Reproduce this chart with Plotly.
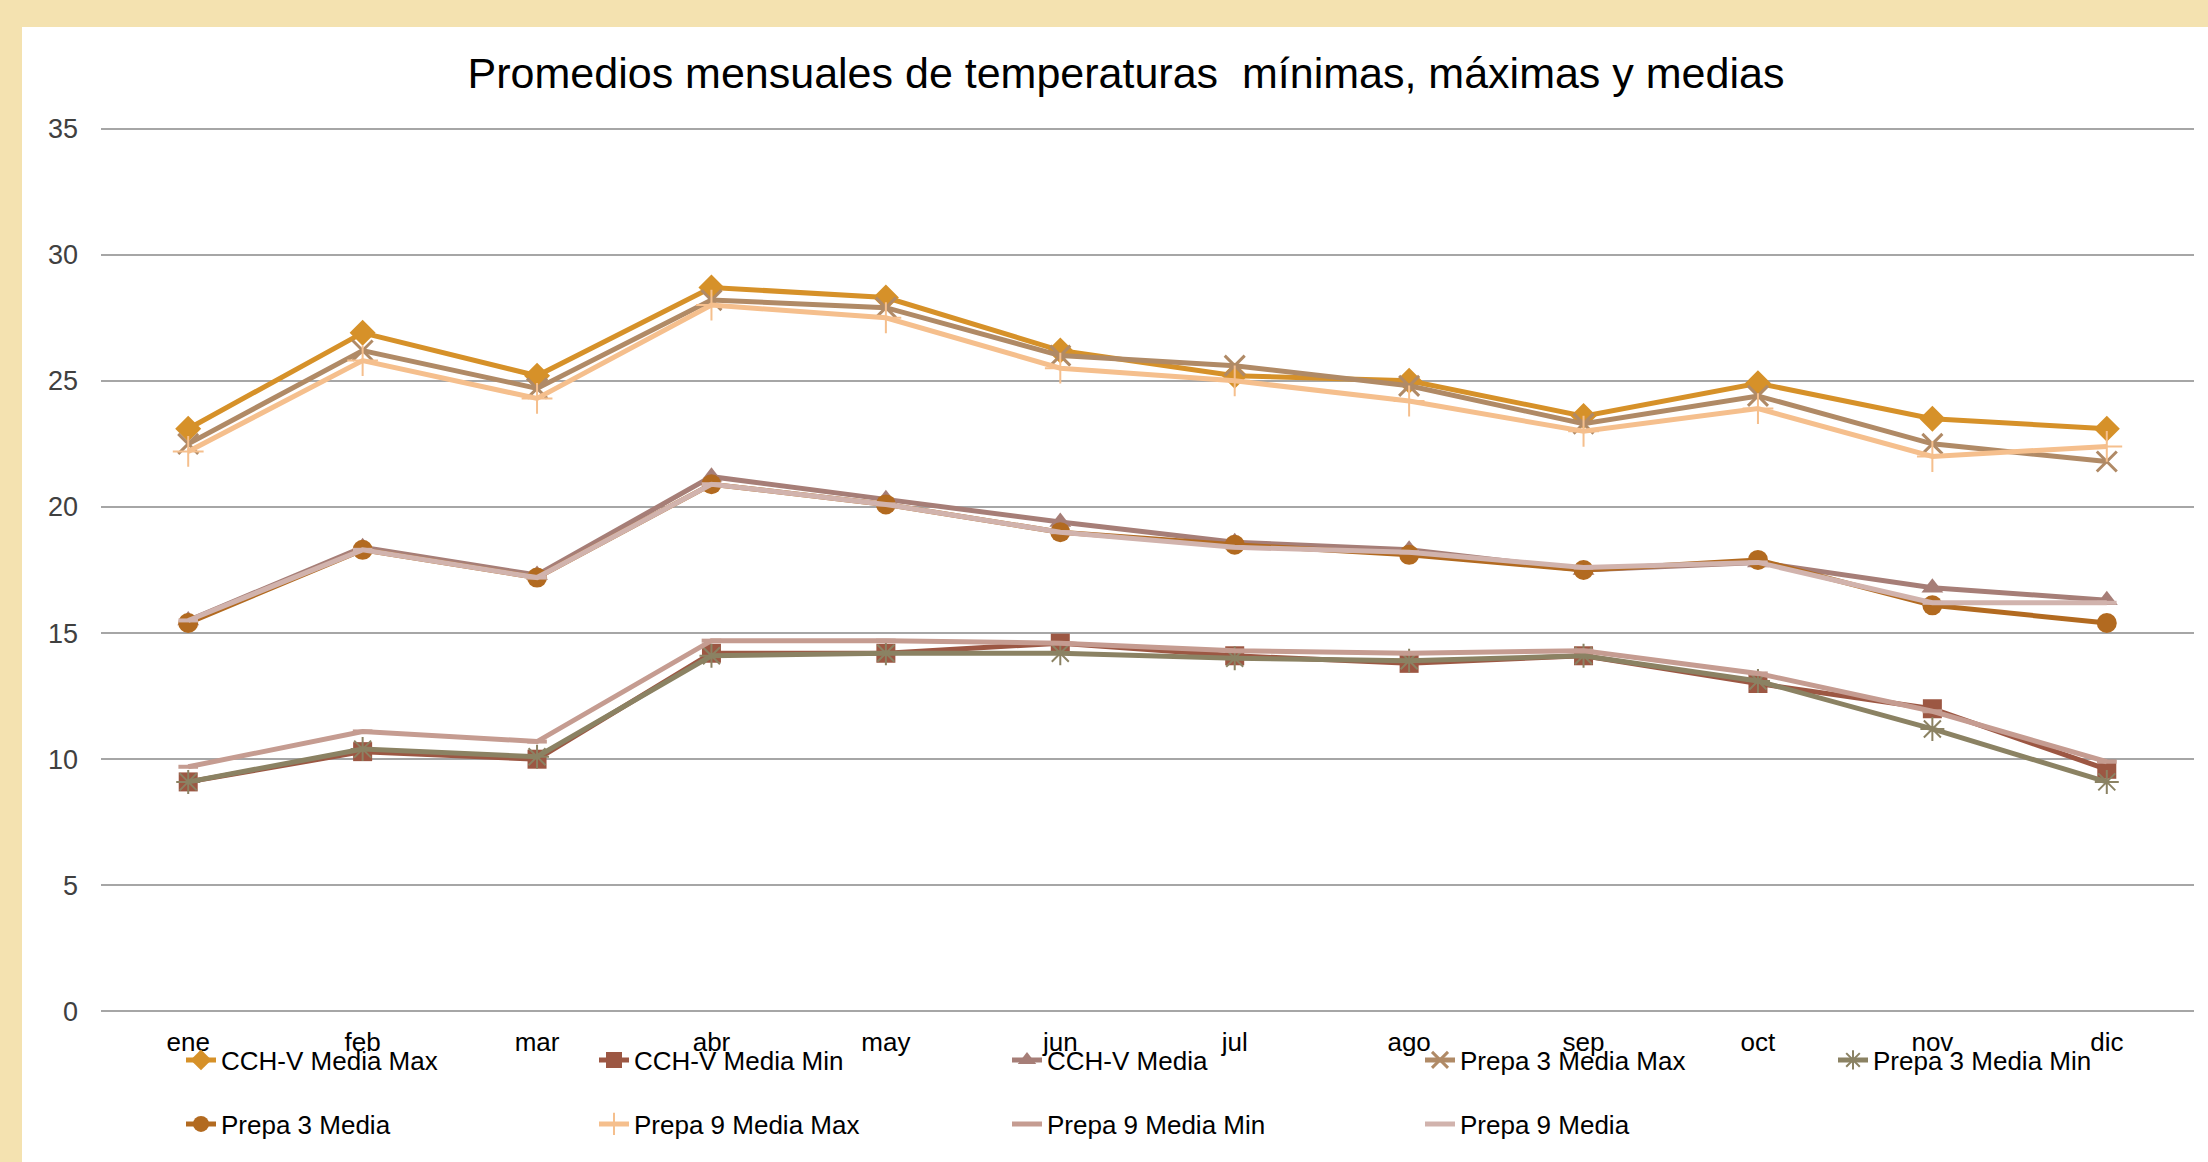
import plotly.graph_objects as go

months = ["ene", "feb", "mar", "abr", "may", "jun", "jul", "ago", "sep", "oct", "nov", "dic"]

cchv_max = [23.1, 26.9, 25.2, 28.7, 28.3, 26.2, 25.2, 25.0, 23.6, 24.9, 23.5, 23.1]
cchv_min = [9.1, 10.3, 10.0, 14.2, 14.2, 14.6, 14.1, 13.8, 14.1, 13.0, 12.0, 9.6]
cchv_med = [15.5, 18.4, 17.3, 21.2, 20.3, 19.4, 18.6, 18.3, 17.5, 17.8, 16.8, 16.3]
p3_max = [22.5, 26.2, 24.7, 28.2, 27.9, 26.0, 25.6, 24.8, 23.3, 24.4, 22.5, 21.8]
p3_min = [9.1, 10.4, 10.1, 14.1, 14.2, 14.2, 14.0, 13.9, 14.1, 13.1, 11.2, 9.1]
p3_med = [15.4, 18.3, 17.2, 20.9, 20.1, 19.0, 18.5, 18.1, 17.5, 17.9, 16.1, 15.4]
p9_max = [22.2, 25.8, 24.3, 28.0, 27.5, 25.5, 25.0, 24.2, 23.0, 23.9, 22.0, 22.4]
p9_min = [9.7, 11.1, 10.7, 14.7, 14.7, 14.6, 14.3, 14.2, 14.3, 13.4, 11.9, 9.9]
p9_med = [15.5, 18.3, 17.2, 20.9, 20.1, 19.0, 18.4, 18.2, 17.6, 17.8, 16.2, 16.2]

names = ["CCH-V Media Max", "CCH-V Media Min", "CCH-V Media",
         "Prepa 3 Media Max", "Prepa 3 Media Min", "Prepa 3 Media",
         "Prepa 9 Media Max", "Prepa 9 Media Min", "Prepa 9 Media"]
series = [cchv_max, cchv_min, cchv_med, p3_max, p3_min, p3_med, p9_max, p9_min, p9_med]
colors = ["#D69129", "#9C5743", "#A67E77", "#B08A66", "#8B8263", "#B26A20",
          "#F5BF8D", "#C59C91", "#D1B3AD"]
symbols = ["diamond", "square", "triangle-up", "x-thin", "asterisk", "circle",
           "cross-thin", "line-ew", "line-ew"]
msizes = [20, 19, 19, 20, 20, 20, 22, 14, 14]
mlinew = [0, 0, 0, 3, 2, 0, 2, 4, 4]

W, H = 2208, 1162
YPAD = 0.1
L, R, T, B = 101, 14, 126, 148
pw, ph = W - L - R, H - T - B

def px(x):
    return (x - L) / pw

def py(y):
    return (H - B - y) / ph

fig = go.Figure()
for i, (nm, ys) in enumerate(zip(names, series)):
    fig.add_trace(go.Scatter(
        x=months, y=ys, name=nm, mode="lines+markers",
        line=dict(color=colors[i], width=5),
        marker=dict(symbol=symbols[i], size=msizes[i], color=colors[i],
                    line=dict(color=colors[i], width=mlinew[i])),
        legend="legend" if i < 5 else "legend2",
    ))

font_main = "Liberation Sans, Arial, sans-serif"

fig.update_layout(
    width=W, height=H, autosize=False,
    margin=dict(l=L, r=R, t=T, b=B, pad=0, autoexpand=False),
    paper_bgcolor="#F4E2B0",
    plot_bgcolor="white",
    title=dict(text="Promedios mensuales de temperaturas  mínimas, máximas y medias",
               x=1126 / W, xanchor="center", y=1 - 73 / H, yanchor="middle",
               font=dict(family=font_main, size=43, color="#000000")),
    xaxis=dict(range=[-0.5, len(months) - 0.5], showgrid=False, showline=False,
               zeroline=False, ticks="",
               tickfont=dict(family=font_main, size=26, color="#000000"),
               ticklabelstandoff=10, fixedrange=True),
    yaxis=dict(range=[-YPAD, 35 + YPAD], tickvals=[0, 5, 10, 15, 20, 25, 30, 35],
               showgrid=True, gridcolor="#A6A6A6", gridwidth=2,
               zeroline=False, showline=False, ticks="",
               tickfont=dict(family=font_main, size=27, color="#404040"),
               ticklabelstandoff=22),
    legend=dict(orientation="h", x=px(181), xanchor="left", y=py(1060), yanchor="middle",
                entrywidth=368, entrywidthmode="pixels", bgcolor="rgba(0,0,0,0)",
                font=dict(family=font_main, size=26, color="#000000"), traceorder="normal"),
    legend2=dict(orientation="h", x=px(181), xanchor="left", y=py(1124), yanchor="middle",
                 entrywidth=368, entrywidthmode="pixels", bgcolor="rgba(0,0,0,0)",
                 font=dict(family=font_main, size=26, color="#000000"), traceorder="normal"),
    shapes=[dict(type="rect", xref="paper", yref="paper", layer="below",
                 x0=px(22), x1=px(W + 5), y0=py(H + 5), y1=py(27),
                 fillcolor="white", line=dict(width=0))],
    showlegend=True,
)

fig.write_html("out.html", config={"responsive": False, "displayModeBar": False},
               post_script="document.body.style.margin='0';")
